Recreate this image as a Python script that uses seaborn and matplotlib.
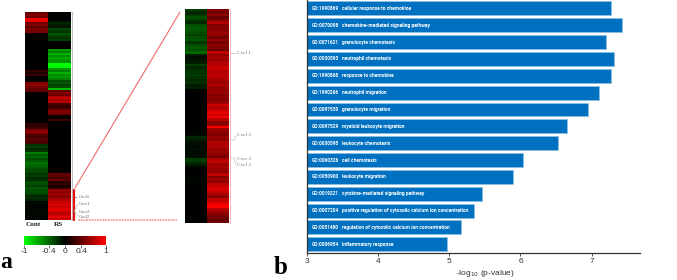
import matplotlib
matplotlib.use("Agg")
import matplotlib.pyplot as plt
import seaborn as sns
import pandas as pd
from matplotlib.colors import LinearSegmentedColormap
from matplotlib.lines import Line2D

go_ids = ["GO:1990869","GO:0070098","GO:0071621","GO:0030593","GO:1990868","GO:1990266","GO:0097530",
          "GO:0097529","GO:0030595","GO:0060326","GO:0050900","GO:0019221","GO:0007204","GO:0051480","GO:0006954"]
go_terms = ["cellular response to chemokine","chemokine-mediated signaling pathway","granulocyte chemotaxis",
            "neutrophil chemotaxis","response to chemokine","neutrophil migration","granulocyte migration",
            "myeloid leukocyte migration","leukocyte chemotaxis","cell chemotaxis","leukocyte migration",
            "cytokine-mediated signaling pathway","positive regulation of cytosolic calcium ion concentration",
            "regulation of cytosolic calcium ion concentration","inflammatory response"]
log_p = [7.27,7.43,7.20,7.31,7.27,7.10,6.95,6.66,6.53,6.03,5.89,5.46,5.35,5.17,4.97]
x_ticks = [3,4,5,6,7]

main_cont = [.4,.5,.4,.95,.9,.45,.5,.35,.5,.45,.5,
             0,0,0,0,0,0,0,0,0,0,0,0,0,0,0,0,0,0,0,
             .2,.12,.2,0,0,.05,.5,.55,.45,.4,.35,
             0,0,0,0,0,0,0,0,0,0,0,0,0,0,0,0,
             .2,.15,.25,.5,.55,.45,.3,.25,.35,
             .3,.3,-.2,-.25,-.15,-.2,-.5,-.35,-.4,-.3,-.35,-.45,-.4,-.38,-.3,-.3,-.28,
             -.2,-.25,-.15,-.2,-.3,-.3,-.25,-.35,-.3,-.32,-.25,-.15,-.18,-.12,
             -.03,-.04,-.02,-.03,-.03,-.02,-.04,-.03,-.03,-.02]
main_rs = [0,0,0,0,-.05,-.15,-.1,-.08,-.3,-.25,-.2,-.35,-.25,-.2,-.25,0,0,0,0,
           -.6,-.5,-.7,-.55,-.65,-.6,-.55,-1,-1,-.95,-.6,-.5,-.7,-.55,-.6,-.5,-.3,-.35,-.25,-.3,-.75,
           .4,.5,.4,.7,.8,.65,.7,.3,.2,.25,.45,.5,.4,.05,.02,.25,0,0,0,0,0,0,0,0,0,0,
           0,0,0,0,0,0,0,0,0,0,0,0,0,0,0,.02,.03,.4,.35,.3,.4,.15,.2,.12,.15,
           .6,.55,.65,.5,.6,.7,.8,.75,.85,.8,.9,.85,.7,.8,.9,.75]

zoom_cont = [-.25,-.15,-.2,-.3,-.25,-.15,-.3,-.35,-.35,-.3,-.25,-.3,-.35,-.2,-.3,-.35,-.3,-.4,-.1,-.05,-.08,-.1,-.25,-.15,
             -.2,-.2,-.25,-.2,-.15,-.2,-.1,-.12,
             0,0,0,0,0,0,0,0,0,0,0,0,0,0,0,0,0,-.02,-.02,-.15,-.12,-.05,-.05,-.03,-.05,-.05,-.05,-.05,-.25,-.2,-.12,-.02,
             0,0,0,-.02,-.03,-.02,0,0,0,0,0,0,0,0,0,0,0,0,0,0,0,0]
zoom_rs = [.5,.45,.55,.4,.5,.7,.5,.55,.5,.6,.55,.45,.6,.45,.55,.5,.4,.75,.55,.65,.6,.7,.7,.8,
           .75,.7,.75,.7,.65,.6,.7,.6,.55,.6,.5,.55,.5,.6,
           .8,.7,.75,.9,.8,.95,.7,.5,.55,1,.6,.55,.5,.6,.55,.7,.65,.7,.6,.6,.55,.45,.7,.75,.6,.65,
           .6,.55,.75,.5,.6,.55,.75,.8,.85,.75,.65,.5,.75,.8,.95,1,.7,.6,.5,.45,.4,.45]

cmap = LinearSegmentedColormap.from_list("gkr", ["#00ff00", "#000000", "#ff0000"])
W, H = 677, 280
sns.set_theme(style="white")
plt.rcParams["font.family"] = ["Liberation Sans", "DejaVu Sans"]
fig = plt.figure(figsize=(W/100, H/100), dpi=100, facecolor="white")

def px_axes(x0, y0, x1, y1, **kw):
    return fig.add_axes([x0/W, 1-y1/H, (x1-x0)/W, (y1-y0)/H], **kw)

ov = px_axes(0, 0, W, H)
ov.set_xlim(0, W); ov.set_ylim(H, 0); ov.axis("off")

ax1 = px_axes(25, 12, 71, 220)
sns.heatmap(pd.DataFrame({"Cont": main_cont, "RS": main_rs}), ax=ax1, cmap=cmap, vmin=-1, vmax=1,
            cbar=False, xticklabels=False, yticklabels=False)
ax2 = px_axes(185, 9, 229, 223)
sns.heatmap(pd.DataFrame({"Cont": zoom_cont, "RS": zoom_rs}), ax=ax2, cmap=cmap, vmin=-1, vmax=1,
            cbar=False, xticklabels=False, yticklabels=False)
ov.add_line(Line2D([71.5, 71.5], [12, 220], color="#bdbdbd", lw=.8))
ov.add_line(Line2D([229.5, 229.5], [9, 223], color="#e8b4b4", lw=.7))

serif = "Liberation Serif"
ov.text(33, 225, "Cont", family=serif, weight="bold", fontsize=5.2, ha="center", va="center", color="#222222")
ov.text(58, 225, "RS", family=serif, weight="bold", fontsize=5.2, ha="center", va="center", color="#222222")

cax = px_axes(24, 236, 106, 245)
sm = plt.cm.ScalarMappable(cmap=cmap, norm=plt.Normalize(-1, 1))
cb = fig.colorbar(sm, cax=cax, orientation="horizontal", ticks=[-1, -.4, 0, .4, 1])
cb.ax.set_xticklabels(["-1", "-0.4", "0", "0.4", "1"], fontsize=6, color="#333333")
cb.ax.tick_params(length=2.5, width=.5, pad=0, color="#333333", bottom=True)
cb.outline.set_visible(False)

ov.add_line(Line2D([75, 180], [188, 12], color="#ef6b6b", lw=.8))
ov.add_line(Line2D([73.5, 73.5], [190, 220], color="#e81010", lw=1.6))
ov.add_line(Line2D([78, 177], [220, 220], color="#f3a9a9", lw=1.4, ls=(0, (1, .4))))
for y, s in zip([196.5, 204, 212, 217], ["Cxcl1", "Cxcr1", "Cxcr2", "Cxcl2"]):
    ov.text(79, y, s, family=serif, fontsize=3.4, color="#666666", va="center")
ov.add_line(Line2D([74, 77], [196.5, 196.5], color="#555555", lw=.4))
ov.add_line(Line2D([74, 78], [211, 204], color="#aaaaaa", lw=.4))
ov.add_line(Line2D([74, 78], [211, 216], color="#aaaaaa", lw=.4))
for y, s in zip([53, 135, 158.5, 165], ["Cxcl 1", "Cxcl 3", "Cxcr 2", "Cxcl 3"]):
    ov.text(237, y, s, family=serif, fontsize=3.8, color="#777777", va="center")
ov.add_line(Line2D([231, 235], [53, 53], color="#bbbbbb", lw=.5))
ov.add_line(Line2D([231, 234, 236], [140, 140, 136], color="#aaaaaa", lw=.4))
ov.add_line(Line2D([231, 234, 236], [158, 158, 164], color="#aaaaaa", lw=.4))

ov.text(0, 263, "a", family=serif, weight="bold", fontsize=17, color="black", va="center")
ov.text(274, 268, "b", family=serif, weight="bold", fontsize=18, color="black", va="center")
ov.text(485, 273.5, r"-log$_{10}$ (p-value)", fontsize=6, color="#333333", ha="center", va="center")

ax3 = px_axes(307, 0, 640, 252.7)
df = pd.DataFrame({"go": go_ids, "p": log_p})
sns.barplot(df, x="p", y="go", ax=ax3, color="#0070c0", saturation=1, width=.83,
            edgecolor="#8fc0e4", linewidth=.5)
ax3.set_xlim(3, 7.68); ax3.set_ylim(14.5, -.5)
ax3.set_xticks(x_ticks); ax3.set_xticklabels([str(t) for t in x_ticks], fontsize=6, color="#333333")
ax3.set_yticks([]); ax3.set_ylabel(""); ax3.set_xlabel("")
ax3.tick_params(axis="x", length=2, width=.6, pad=2, bottom=True, color="#333333")
sns.despine(ax=ax3)
for s in ["left", "bottom"]:
    ax3.spines[s].set_color("#333333"); ax3.spines[s].set_linewidth(.9)
ax3.patch.set_alpha(0)
dx = ax3.get_xlim()[1] - ax3.get_xlim()[0]
for i, (g, t) in enumerate(zip(go_ids, go_terms)):
    ax3.text(3 + 5/333*dx, i, g, fontsize=3.4, color="white", weight="bold", va="center", family="Roboto")
    ax3.text(3 + 35/333*dx, i, t, fontsize=3.6, color="white", weight="bold", va="center", family="Roboto")

fig.savefig("out.png", dpi=100)
